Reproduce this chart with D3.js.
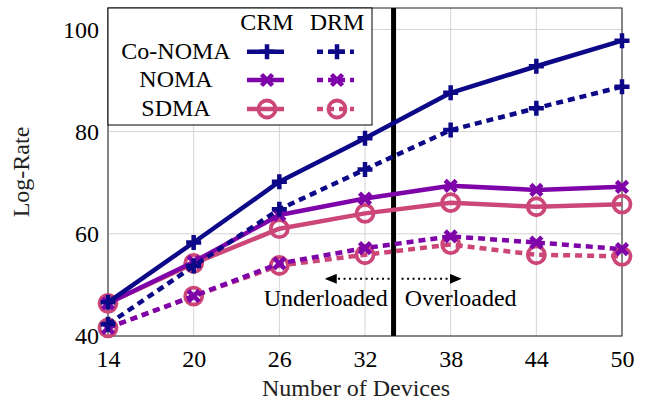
<!DOCTYPE html>
<html>
<head>
<meta charset="utf-8">
<script src="https://cdn.jsdelivr.net/npm/d3@7"></script>
<style>
  html, body { margin: 0; padding: 0; background: #fff; }
  svg { display: block; font-family: "Liberation Serif", "Times New Roman", serif; }
</style>
</head>
<body>
<svg id="chart" width="646" height="403"></svg>
<script>
// Number of devices on the x axis
const devices = [14, 20, 26, 32, 38, 44, 50];
const yTicks = [40, 60, 80, 100];

// Log-rate per scheme and resource-management mode
const coNomaCRM = [46.6, 58.3, 70.2, 78.7, 87.6, 92.8, 97.8];
const coNomaDRM = [42.3, 53.7, 64.8, 72.6, 80.3, 84.6, 88.8];
const nomaCRM   = [46.4, 54.5, 63.7, 66.9, 69.4, 68.6, 69.2];
const nomaDRM   = [41.6, 47.8, 54.2, 57.2, 59.5, 58.3, 57.0];
const sdmaCRM   = [46.4, 54.2, 61.0, 64.0, 66.1, 65.3, 65.8];
const sdmaDRM   = [41.6, 47.8, 53.8, 55.9, 57.9, 55.9, 55.6];

const schemes = ["Co-NOMA", "NOMA", "SDMA"];
const modes = ["CRM", "DRM"];
const boundary = 34; // split between underloaded and overloaded regimes

const colors = { "Co-NOMA": "#0d0887", "NOMA": "#7e03a8", "SDMA": "#cc4778" };
const markers = { "Co-NOMA": "plus", "NOMA": "cross", "SDMA": "circle" };

const series = [
  { scheme: "SDMA", mode: "DRM", values: sdmaDRM },
  { scheme: "SDMA", mode: "CRM", values: sdmaCRM },
  { scheme: "NOMA", mode: "DRM", values: nomaDRM },
  { scheme: "NOMA", mode: "CRM", values: nomaCRM },
  { scheme: "Co-NOMA", mode: "DRM", values: coNomaDRM },
  { scheme: "Co-NOMA", mode: "CRM", values: coNomaCRM }
];

const FS = 24;
const svg = d3.select("#chart");
const pLeft = 108, pRight = 622, pTop = 8, pBottom = 336;

const x = d3.scaleLinear().domain([14, 50]).range([pLeft, pRight]);
const y = d3.scaleLinear().domain([40, 104.2]).range([pBottom, pTop]);

// grid
const grid = svg.append("g").attr("stroke", "#d4d4d4").attr("stroke-width", 1);
grid.selectAll(".gx").data(devices).join("line")
  .attr("x1", d => x(d)).attr("x2", d => x(d))
  .attr("y1", pTop).attr("y2", pBottom);
grid.selectAll(".gy").data(yTicks).join("line")
  .attr("x1", pLeft).attr("x2", pRight)
  .attr("y1", d => y(d)).attr("y2", d => y(d));

// axes
const xAxis = svg.append("g").attr("transform", `translate(0,${pBottom})`)
  .call(d3.axisBottom(x).tickValues(devices).tickSize(0).tickPadding(9));
const yAxis = svg.append("g").attr("transform", `translate(${pLeft},0)`)
  .call(d3.axisLeft(y).tickValues(yTicks).tickSize(0).tickPadding(9));
[xAxis, yAxis].forEach(a => {
  a.select(".domain").remove();
  a.selectAll("text").attr("font-size", FS).attr("fill", "#000")
    .attr("font-family", "Liberation Serif, serif");
});
xAxis.selectAll("text").attr("dy", "0.9em");

// frame
svg.append("rect").attr("x", pLeft).attr("y", pTop)
  .attr("width", pRight - pLeft).attr("height", pBottom - pTop)
  .attr("fill", "none").attr("stroke", "#222").attr("stroke-width", 1);

// regime boundary
svg.append("line")
  .attr("x1", x(boundary)).attr("x2", x(boundary))
  .attr("y1", pTop).attr("y2", pBottom)
  .attr("stroke", "#000").attr("stroke-width", 5);

// regime arrows and labels
const defs = svg.append("defs");
defs.append("marker").attr("id", "arrowhead")
  .attr("viewBox", "0 0 12 10").attr("refX", 11).attr("refY", 5)
  .attr("markerWidth", 12).attr("markerHeight", 10)
  .attr("markerUnits", "userSpaceOnUse").attr("orient", "auto")
  .append("path").attr("d", "M0,0 L12,5 L0,10 Z").attr("fill", "#000");

const arrowY = y(51.2);
svg.append("line")
  .attr("x1", x(boundary) - 4).attr("x2", x(29.25))
  .attr("y1", arrowY).attr("y2", arrowY)
  .attr("stroke", "#000").attr("stroke-width", 2).attr("stroke-dasharray", "2,3.5")
  .attr("marker-end", "url(#arrowhead)");
svg.append("line")
  .attr("x1", x(boundary) + 8).attr("x2", x(38.7))
  .attr("y1", arrowY).attr("y2", arrowY)
  .attr("stroke", "#000").attr("stroke-width", 2).attr("stroke-dasharray", "2,3.5")
  .attr("marker-end", "url(#arrowhead)");
svg.append("text").attr("x", x(29.25)).attr("y", y(45.9))
  .attr("text-anchor", "middle").attr("font-size", FS).text("Underloaded");
svg.append("text").attr("x", x(38.7)).attr("y", y(45.9))
  .attr("text-anchor", "middle").attr("font-size", FS).text("Overloaded");

// marker drawing
function drawMarker(g, type, color) {
  if (type === "plus") {
    g.append("path").attr("d", "M-7.5,0H7.5M0,-7.5V7.5")
      .attr("stroke", color).attr("stroke-width", 4.5).attr("fill", "none");
  } else if (type === "cross") {
    g.append("path").attr("d", "M-5.5,-5.5L5.5,5.5M-5.5,5.5L5.5,-5.5")
      .attr("stroke", color).attr("stroke-width", 4.5).attr("fill", "none");
  } else {
    g.append("circle").attr("r", 8.5)
      .attr("stroke", color).attr("stroke-width", 3.8).attr("fill", "none");
  }
}

const line = d3.line().x((d, i) => x(devices[i])).y(d => y(d));

series.forEach(s => {
  const color = colors[s.scheme];
  const g = svg.append("g");
  g.append("path").datum(s.values)
    .attr("d", line)
    .attr("fill", "none").attr("stroke", color).attr("stroke-width", 4.5)
    .attr("stroke-linejoin", "round")
    .attr("stroke-dasharray", s.mode === "DRM" ? "7,5" : null);
  s.values.forEach((v, i) => {
    const m = g.append("g").attr("transform", `translate(${x(devices[i])},${y(v)})`);
    drawMarker(m, markers[s.scheme], color);
  });
});

// legend
const legend = svg.append("g");
legend.append("rect").attr("x", 108).attr("y", 8).attr("width", 264).attr("height", 117)
  .attr("fill", "#fff").attr("stroke", "#000").attr("stroke-width", 1);
const colX = { CRM: 267, DRM: 337 };
const rowY = [51.7, 80, 109];
modes.forEach(m => {
  legend.append("text").attr("x", colX[m]).attr("y", 29.5)
    .attr("text-anchor", "middle").attr("font-size", FS).text(m);
});
schemes.forEach((sc, r) => {
  legend.append("text").attr("x", 176).attr("y", rowY[r] + 7)
    .attr("text-anchor", "middle").attr("font-size", FS).text(sc);
  modes.forEach(m => {
    const cx = colX[m];
    legend.append("line")
      .attr("x1", cx - 20).attr("x2", cx + 17)
      .attr("y1", rowY[r]).attr("y2", rowY[r])
      .attr("stroke", colors[sc]).attr("stroke-width", 4.5)
      .attr("stroke-dasharray", m === "DRM" ? "6,5" : null);
    const g = legend.append("g").attr("transform", `translate(${cx},${rowY[r]})`);
    drawMarker(g, markers[sc], colors[sc]);
  });
});

// axis titles
svg.append("text").attr("x", 356).attr("y", 396)
  .attr("text-anchor", "middle").attr("font-size", FS).attr("fill", "#222")
  .text("Number of Devices");
svg.append("text")
  .attr("transform", `translate(29,${(pTop + pBottom) / 2}) rotate(-90)`)
  .attr("text-anchor", "middle").attr("font-size", FS).attr("fill", "#222")
  .text("Log-Rate");
</script>
</body>
</html>
